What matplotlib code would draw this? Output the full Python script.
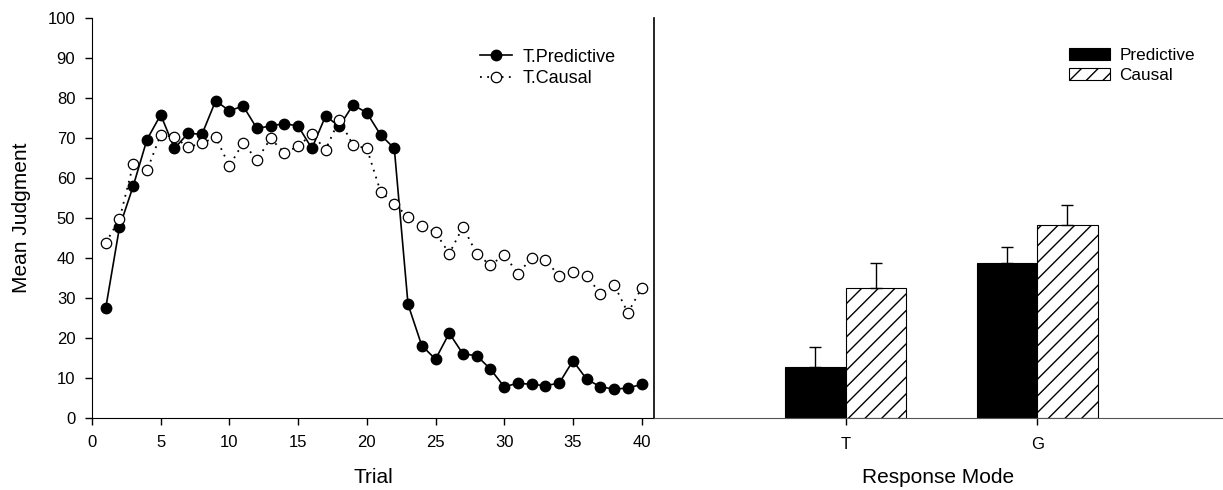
import matplotlib.pyplot as plt
import numpy as np

plt.rcParams['font.family'] = ['Liberation Sans', 'DejaVu Sans']

# данные по пробам
trials = list(range(1, 41))
t_predictive = [27.5, 47.7, 58.0, 69.6, 75.8, 67.4, 71.2, 70.9, 79.3, 76.8,
                78.0, 72.4, 73.0, 73.6, 73.0, 67.4, 75.5, 72.9, 78.3, 76.3,
                70.8, 67.4, 28.4, 18.1, 14.7, 21.2, 16.0, 15.6, 12.2, 7.8,
                8.7, 8.4, 8.1, 8.7, 14.3, 9.7, 7.8, 7.2, 7.5, 8.4]
t_causal = [43.8, 49.7, 63.4, 61.9, 70.8, 70.2, 67.7, 68.7, 70.2, 63.0,
            68.8, 64.5, 69.9, 66.3, 67.9, 71.0, 67.1, 74.6, 68.2, 67.4,
            56.6, 53.6, 50.2, 48.0, 46.4, 41.1, 47.8, 41.0, 38.2, 40.8,
            36.1, 40.0, 39.5, 35.5, 36.6, 35.5, 31.1, 33.3, 26.3, 32.5]

# данные по режимам ответа
modes = ['T', 'G']
predictive_mean = [12.8, 38.7]
predictive_err = [5.0, 4.0]
causal_mean = [32.6, 48.2]
causal_err = [6.2, 5.0]

fig = plt.figure(figsize=(12.23, 4.9), dpi=100)
ax1 = fig.add_axes([92 / 1223, 72 / 490, 562 / 1223, 400 / 490])
ax2 = fig.add_axes([654 / 1223, 72 / 490, 569 / 1223, 400 / 490])
ax2.patch.set_visible(False)

# левый график
ax1.plot(trials, t_predictive, color='black', linewidth=1.2, marker='o',
         markersize=7.5, markerfacecolor='black', label='T.Predictive')
ax1.plot(trials, t_causal, color='black', linewidth=1.3, linestyle=(0, (1, 3)),
         marker='o', markersize=7.5, markerfacecolor='white',
         markeredgewidth=0.9, label='T.Causal')
ax1.set_xlim(0, 40.9)
ax1.set_ylim(0, 100)
ax1.set_xticks(range(0, 41, 5))
ax1.set_yticks(range(0, 101, 10))
ax1.spines['top'].set_visible(False)
ax1.spines['right'].set_visible(False)
ax1.tick_params(direction='out', length=5, width=1.0, labelsize=12, pad=7)
ax1.set_xlabel('Trial', fontsize=15, labelpad=13)
ax1.set_ylabel('Mean Judgment', fontsize=15, labelpad=12)
ax1.legend(loc='upper left', bbox_to_anchor=(0.68, 0.937), frameon=False,
           fontsize=13, handlelength=1.8, handletextpad=0.6,
           labelspacing=0.25, borderaxespad=0, borderpad=0.3)

# правый график
x = np.arange(len(modes))
w = 0.316
ax2.bar(x - w / 2, predictive_mean, w, color='black', edgecolor='black',
        linewidth=0.8, label='Predictive')
ax2.bar(x + w / 2, causal_mean, w, color='white', edgecolor='black',
        hatch='//', linewidth=0.8, label='Causal')
ax2.errorbar(x - w / 2, predictive_mean,
             yerr=[np.zeros(len(modes)), predictive_err],
             fmt='none', ecolor='black', elinewidth=1.0, capsize=4)
ax2.errorbar(x + w / 2, causal_mean,
             yerr=[np.zeros(len(modes)), causal_err],
             fmt='none', ecolor='black', elinewidth=1.0, capsize=4)
ax2.set_xlim(-1.0, 1.97)
ax2.set_ylim(0, 100)
ax2.set_xticks(x)
ax2.set_xticklabels(modes)
ax2.set_yticks([])
for s in ['top', 'right']:
    ax2.spines[s].set_visible(False)
ax2.spines['left'].set_linewidth(1.2)
ax2.spines['bottom'].set_color('#555555')
ax2.tick_params(direction='out', length=5, width=1.0, labelsize=12, pad=9)
ax2.set_xlabel('Response Mode', fontsize=15, labelpad=11)
ax2.legend(loc='upper left', bbox_to_anchor=(0.72, 0.937), frameon=False,
           fontsize=12.3, handlelength=2.4, handleheight=0.7,
           handletextpad=0.55, labelspacing=0.3, borderaxespad=0,
           borderpad=0.3)

fig.savefig('out.png', dpi=100)
